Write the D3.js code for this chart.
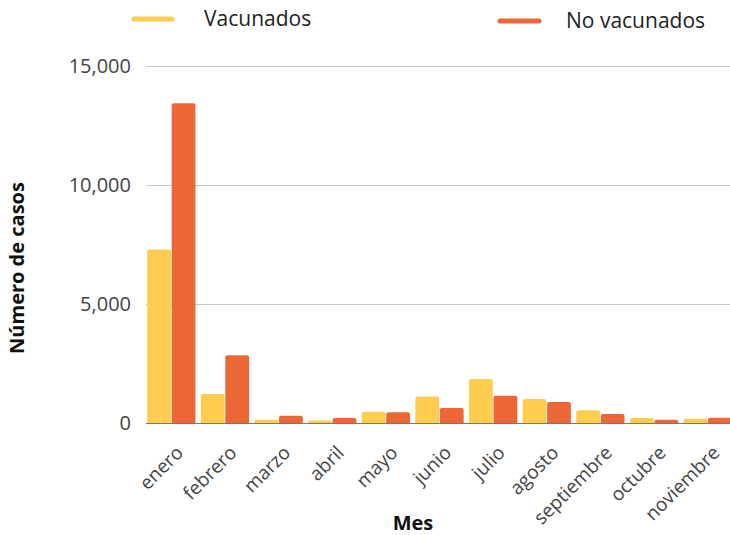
<!DOCTYPE html>
<html>
<head>
<meta charset="utf-8">
<script src="https://cdn.jsdelivr.net/npm/d3@7"></script>
<style>
  html, body { margin: 0; padding: 0; background: #fff; }
  svg { display: block; font-family: "Open Sans", sans-serif; }
</style>
</head>
<body>
<svg id="chart" width="730" height="535"></svg>
<script>
const months = ["enero","febrero","marzo","abril","mayo","junio","julio","agosto","septiembre","octubre","noviembre"];
const seriesNames = ["Vacunados","No vacunados"];
const vacunados = [7300, 1230, 150, 120, 490, 1130, 1860, 1020, 545, 225, 195];
const noVacunados = [13450, 2860, 320, 225, 460, 645, 1160, 895, 390, 150, 235];
const yTicks = [0, 5000, 10000, 15000];
const colors = ["#FECD50", "#ED6737"];

const svg = d3.select("#chart");
const x0 = d3.scaleBand().domain(months).range([144.5, 734.5]).paddingInner(0.1).paddingOuter(0.05);
const x1 = d3.scaleBand().domain(seriesNames).range([0, x0.bandwidth()]).paddingInner(0.03);
const y = d3.scaleLinear().domain([0, 15000]).range([423.3, 66.3]);

// gridlines
svg.append("g").selectAll("line").data(yTicks.filter(d => d > 0)).join("line")
  .attr("x1", 146).attr("x2", 730)
  .attr("y1", d => Math.round(y(d)) + 0.5).attr("y2", d => Math.round(y(d)) + 0.5)
  .attr("stroke", "#c8c8c8").attr("stroke-width", 1);

// y tick labels
svg.append("g").selectAll("text").data(yTicks).join("text")
  .attr("x", 131).attr("y", d => y(d)).attr("dy", "0.35em")
  .attr("text-anchor", "end").attr("font-size", 20).attr("fill", "#444")
  .text(d => d3.format(",")(d));

// bars
const data = months.map((m, i) => ({ m, vals: [vacunados[i], noVacunados[i]] }));
function topRounded(xp, w, yt, yb, r) {
  r = Math.min(r, (yb - yt), w / 2);
  return `M${xp},${yb}V${yt + r}Q${xp},${yt} ${xp + r},${yt}H${xp + w - r}Q${xp + w},${yt} ${xp + w},${yt + r}V${yb}Z`;
}
const g = svg.append("g");
data.forEach(d => {
  d.vals.forEach((v, k) => {
    g.append("path")
      .attr("d", topRounded(x0(d.m) + x1(seriesNames[k]), x1.bandwidth(), y(v), y(0), 2))
      .attr("fill", colors[k]);
  });
});

// baseline
svg.append("line").attr("x1", 146).attr("x2", 730)
  .attr("y1", Math.round(y(0)) + 0.5).attr("y2", Math.round(y(0)) + 0.5)
  .attr("stroke", "#777").attr("stroke-width", 1);

// x tick labels
svg.append("g").selectAll("text").data(months).join("text")
  .attr("transform", d => `translate(${x0(d) + x0.bandwidth() / 2 + 13},${454}) rotate(-45)`)
  .attr("text-anchor", "end").attr("font-size", 19).attr("fill", "#444")
  .text(d => d);

// axis titles
svg.append("text").attr("transform", "translate(24,268) rotate(-90)")
  .attr("text-anchor", "middle").attr("font-size", 20).attr("font-weight", "bold").attr("fill", "#111")
  .text("Número de casos");
svg.append("text").attr("x", 413).attr("y", 530)
  .attr("text-anchor", "middle").attr("font-size", 20).attr("font-weight", "bold").attr("fill", "#111")
  .text("Mes");

// legend
const legend = [
  { name: seriesNames[0], lx1: 132, lx2: 174, ly: 19, tx: 204, ty: 26 },
  { name: seriesNames[1], lx1: 498, lx2: 541, ly: 21, tx: 566, ty: 28 }
];
legend.forEach((l, k) => {
  svg.append("line").attr("x1", l.lx1 + 2).attr("x2", l.lx2 - 2).attr("y1", l.ly).attr("y2", l.ly)
    .attr("stroke", colors[k]).attr("stroke-width", 5).attr("stroke-linecap", "round");
  svg.append("text").attr("x", l.tx).attr("y", l.ty).attr("font-size", 21).attr("fill", "#222").text(l.name);
});
</script>
</body>
</html>
